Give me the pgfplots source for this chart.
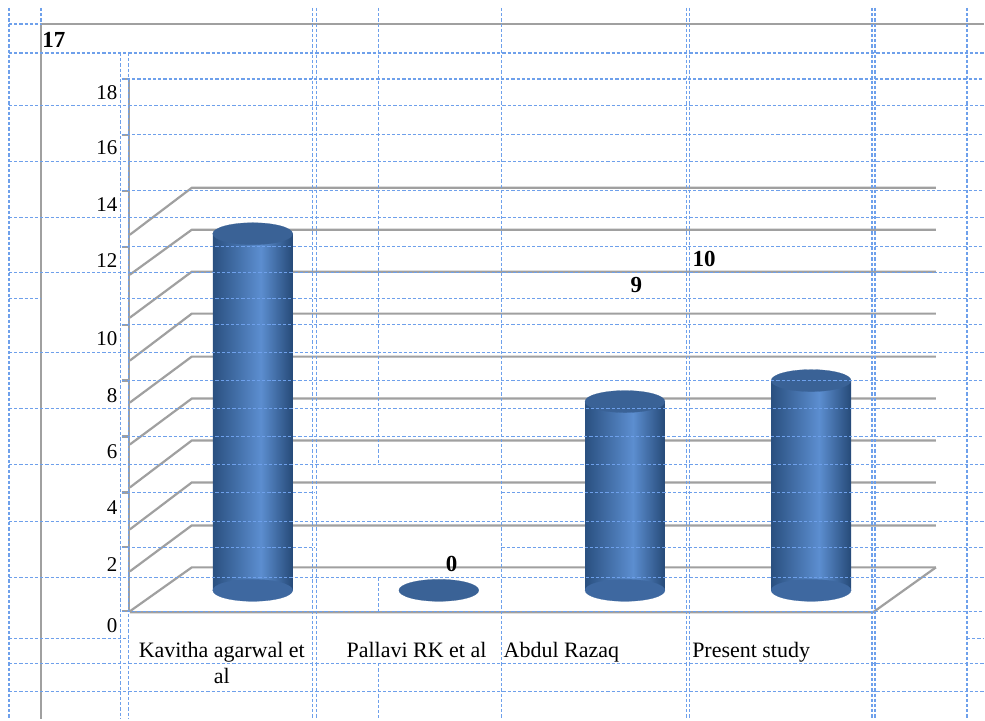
\documentclass[border=0pt]{standalone}
\usepackage{pgfplots}
\pgfplotsset{compat=1.18}
\usepackage{fontspec}
\setmainfont{Liberation Serif}
\definecolor{gridblue}{RGB}{110,160,235}
\definecolor{chartgray}{RGB}{160,160,160}
\definecolor{cylL}{RGB}{42,80,128}
\definecolor{cylM}{RGB}{92,142,208}
\definecolor{cylR}{RGB}{38,74,120}
\definecolor{cylTop}{RGB}{58,98,150}
\definecolor{cylBot}{RGB}{62,104,160}
\pgfdeclarehorizontalshading{cyl}{100bp}{color(0bp)=(cylL); color(25bp)=(cylL); color(55bp)=(cylM); color(75bp)=(cylR); color(100bp)=(cylR)}
\pgfplotsset{canvas/.style={scale only axis, width=492.5pt, height=360pt,
  xmin=0, xmax=985, ymin=0, ymax=720, y dir=reverse, hide axis, clip=false},
  cylbar/.style={ybar, bar width=40pt, bar shift=0pt, draw=none, shade, shading=cyl}}
\tikzset{cg/.style={chartgray, line width=1.1pt},
  bl/.style={gridblue, line width=0.6pt, dash pattern=on 1.6pt off 1pt}}
\begin{document}
\begin{tikzpicture}
% ---------- background: chart frame and 3D walls ----------
\begin{axis}[canvas]
\fill[white] (axis cs:0,0) rectangle (axis cs:985,720);
\draw[cg] (axis cs:41,24) -- (axis cs:985,24);
\draw[cg] (axis cs:41,24) -- (axis cs:41,720);
\draw[cg] (axis cs:130,612) -- (axis cs:192,568) -- (axis cs:937,568);
\draw[cg] (axis cs:130,572) -- (axis cs:192,526) -- (axis cs:937,526);
\draw[cg] (axis cs:130,530) -- (axis cs:192,483) -- (axis cs:937,483);
\draw[cg] (axis cs:130,488) -- (axis cs:192,441) -- (axis cs:937,441);
\draw[cg] (axis cs:130,445) -- (axis cs:192,399) -- (axis cs:937,399);
\draw[cg] (axis cs:130,403) -- (axis cs:192,357) -- (axis cs:937,357);
\draw[cg] (axis cs:130,361) -- (axis cs:192,314) -- (axis cs:937,314);
\draw[cg] (axis cs:130,318) -- (axis cs:192,272) -- (axis cs:937,272);
\draw[cg] (axis cs:130,275) -- (axis cs:192,230) -- (axis cs:937,230);
\draw[cg] (axis cs:130,235) -- (axis cs:192,188) -- (axis cs:937,188);
\draw[cg] (axis cs:130,613) -- (axis cs:874,613) -- (axis cs:937,568);
\draw[cg] (axis cs:129,79) -- (axis cs:129,613);
\draw[cg] (axis cs:122,79) -- (axis cs:129,79);
\draw[cg] (axis cs:122,135) -- (axis cs:129,135);
\draw[cg] (axis cs:122,191) -- (axis cs:129,191);
\draw[cg] (axis cs:122,247) -- (axis cs:129,247);
\draw[cg] (axis cs:122,325) -- (axis cs:129,325);
\draw[cg] (axis cs:122,381) -- (axis cs:129,381);
\draw[cg] (axis cs:122,437) -- (axis cs:129,437);
\draw[cg] (axis cs:122,493) -- (axis cs:129,493);
\draw[cg] (axis cs:122,548) -- (axis cs:129,548);
\draw[cg] (axis cs:122,612) -- (axis cs:129,612);
\end{axis}
% ---------- data: cylinders ----------
\begin{axis}[scale only axis, width=492.5pt, height=360pt,
  xmin=-1.3578, xmax=3.9285, ymin=-6.143, ymax=28.143, hide axis]
\addplot[only marks, mark=*, mark size=20pt,
  mark options={yscale=0.275, fill=cylBot, draw=cylBot, line width=0.1pt}]
  coordinates {(0,0) (2,0) (3,0)};
\addplot[cylbar] coordinates {(0,17)};
\addplot[cylbar] coordinates {(2,9)};
\addplot[cylbar] coordinates {(3,10)};
\addplot[only marks, mark=*, mark size=20pt,
  mark options={yscale=0.275, fill=cylTop, draw=cylTop, line width=0.1pt}]
  coordinates {(0,17) (1,0) (2,9) (3,10)};
\end{axis}
% ---------- overlay: spreadsheet grid and texts ----------
\begin{axis}[canvas]
\draw[bl] (axis cs:9,8) -- (axis cs:9,720);
\draw[bl] (axis cs:41,8) -- (axis cs:41,24);
\draw[bl] (axis cs:121,53) -- (axis cs:121,720);
\draw[bl] (axis cs:129,53) -- (axis cs:129,720);
\draw[bl] (axis cs:313,8) -- (axis cs:313,720);
\draw[bl] (axis cs:317,8) -- (axis cs:317,720);
\draw[bl] (axis cs:379,8) -- (axis cs:379,465);
\draw[bl] (axis cs:379,578) -- (axis cs:379,612);
\draw[bl] (axis cs:379,664) -- (axis cs:379,720);
\draw[bl, line width=0.9pt] (axis cs:502,8) -- (axis cs:502,720);
\draw[bl] (axis cs:687,8) -- (axis cs:687,720);
\draw[bl] (axis cs:690,8) -- (axis cs:690,720);
\draw[bl] (axis cs:873,8) -- (axis cs:873,720);
\draw[bl] (axis cs:876,8) -- (axis cs:876,720);
\draw[bl] (axis cs:968,8) -- (axis cs:968,720);
\draw[bl] (axis cs:9,24) -- (axis cs:41,24);
\draw[bl] (axis cs:9,53) -- (axis cs:985,53);
\draw[bl] (axis cs:122,79) -- (axis cs:985,79);
\draw[bl] (axis cs:9,106) -- (axis cs:985,106);
\draw[bl] (axis cs:122,135) -- (axis cs:985,135);
\draw[bl] (axis cs:9,162) -- (axis cs:985,162);
\draw[bl] (axis cs:122,191) -- (axis cs:985,191);
\draw[bl] (axis cs:9,218) -- (axis cs:985,218);
\draw[bl] (axis cs:122,247) -- (axis cs:985,247);
\draw[bl] (axis cs:9,273) -- (axis cs:985,273);
\draw[bl] (axis cs:9,299) -- (axis cs:41,299);
\draw[bl] (axis cs:122,299) -- (axis cs:985,299);
\draw[bl] (axis cs:122,325) -- (axis cs:985,325);
\draw[bl] (axis cs:9,353) -- (axis cs:985,353);
\draw[bl] (axis cs:122,381) -- (axis cs:985,381);
\draw[bl] (axis cs:9,409) -- (axis cs:985,409);
\draw[bl] (axis cs:122,437) -- (axis cs:985,437);
\draw[bl] (axis cs:9,465) -- (axis cs:985,465);
\draw[bl] (axis cs:122,493) -- (axis cs:315,493);
\draw[bl] (axis cs:502,493) -- (axis cs:985,493);
\draw[bl] (axis cs:9,522) -- (axis cs:985,522);
\draw[bl] (axis cs:122,548) -- (axis cs:315,548);
\draw[bl] (axis cs:502,548) -- (axis cs:985,548);
\draw[bl] (axis cs:9,578) -- (axis cs:985,578);
\draw[bl] (axis cs:122,612) -- (axis cs:985,612);
\draw[bl] (axis cs:9,639) -- (axis cs:129,639);
\draw[bl] (axis cs:968,639) -- (axis cs:985,639);
\draw[bl] (axis cs:9,664) -- (axis cs:985,664);
\draw[bl] (axis cs:9,692) -- (axis cs:985,692);
% y tick labels
\begin{scope}[every node/.style={anchor=base east, inner sep=0pt, font=\fontsize{10.5}{12}\selectfont}]
\node at (axis cs:118,100) {18};
\node at (axis cs:118,155) {16};
\node at (axis cs:118,212) {14};
\node at (axis cs:118,268) {12};
\node at (axis cs:118,346) {10};
\node at (axis cs:118,403) {8};
\node at (axis cs:118,459) {6};
\node at (axis cs:118,515) {4};
\node at (axis cs:118,572) {2};
\node at (axis cs:118,633) {0};
\end{scope}
% category labels
\begin{scope}[every node/.style={anchor=base, inner sep=0pt, font=\fontsize{11}{13}\selectfont}]
\node at (axis cs:222,658) {Kavitha agarwal et};
\node at (axis cs:222,684) {al};
\node at (axis cs:417,658) {Pallavi RK et al};
\node at (axis cs:562,658) {Abdul Razaq};
\node at (axis cs:752,658) {Present study};
\end{scope}
% data labels
\begin{scope}[every node/.style={inner sep=0pt, font=\fontsize{11.5}{13}\selectfont\bfseries}]
\node[anchor=base west] at (axis cs:42,48) {17};
\node[anchor=base] at (axis cs:452,572) {0};
\node[anchor=base] at (axis cs:637,293) {9};
\node[anchor=base west] at (axis cs:693,267) {10};
\end{scope}
\end{axis}
\end{tikzpicture}
\end{document}
